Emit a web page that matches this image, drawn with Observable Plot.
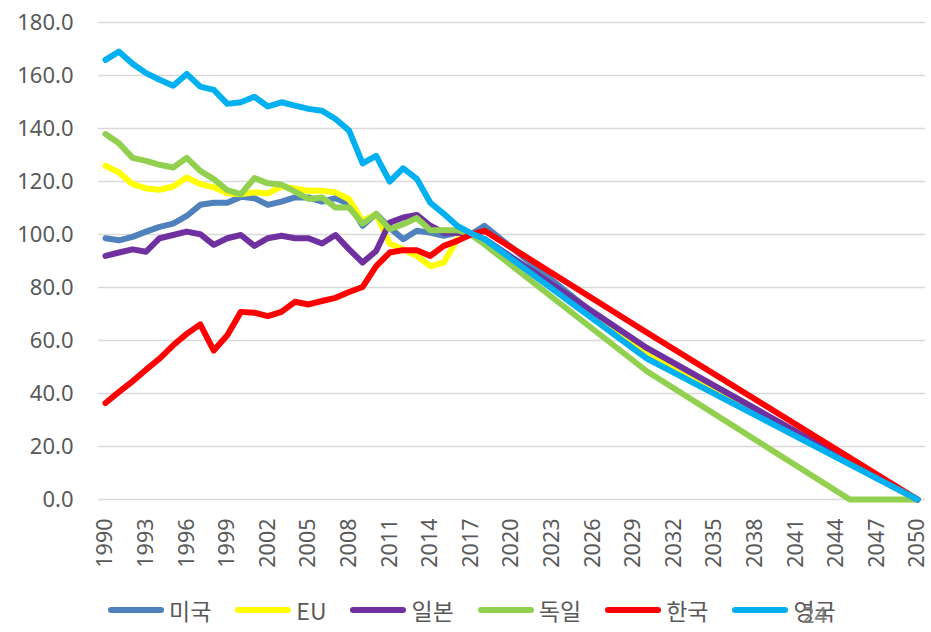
<!DOCTYPE html>
<html><head><meta charset="utf-8">
<script src="https://cdn.jsdelivr.net/npm/d3@7"></script>
<script src="https://cdn.jsdelivr.net/npm/@observablehq/plot@0.6"></script>
<style>
body{margin:0;background:#fff;}
#wrap{position:relative;width:931px;height:632px;overflow:hidden;}
#legend{position:absolute;left:108px;top:594px;height:32px;display:flex;gap:24px;align-items:center;}
.item{display:flex;align-items:center;gap:5px;font-size:23px;color:#595959;font-family:"Noto Sans CJK KR","Noto Sans",sans-serif;line-height:1;}
.sw{width:56px;height:6px;border-radius:3px;}
#page{position:absolute;left:802px;top:603px;font-size:22px;color:#7f7f7f;font-family:"Noto Sans",sans-serif;line-height:1;}
</style></head>
<body><div id="wrap"><div id="chart"></div><div id="legend"></div><div id="page">24</div></div>
<script>
const names = ["미국", "EU", "일본", "독일", "한국", "영국"];
const colors = ["#4f81bd", "#ffff00", "#7030a0", "#92d050", "#ff0000", "#00b0f0"];

const years = [1990,1991,1992,1993,1994,1995,1996,1997,1998,1999,2000,2001,2002,2003,2004,2005,2006,2007,2008,2009,2010,2011,2012,2013,2014,2015,2016,2017,2018];
const us = [98.6,97.8,99.1,101.1,102.9,104.1,107,111.2,112,112,114.2,113.7,111.2,112.4,114,114,112.4,113.7,111.5,103.3,107.8,102.6,98.2,101.4,100.7,99.5,100.7,100,103.3];
const eu = [125.9,123.4,119,117.4,116.9,118.1,121.5,119,117.8,115.6,115.2,115.9,115.5,118.1,117.4,116.5,116.5,115.9,113.3,105.1,107.7,96.5,94.4,91.9,88.1,89.4,98.2,100,98];
const jp = [91.9,93.2,94.4,93.5,98.6,99.8,101.1,100.1,96.1,98.6,99.8,95.7,98.6,99.5,98.6,98.6,96.6,99.8,94.4,89.4,93.8,104.5,106.4,107.4,103.3,100.7,100.7,100,98.3];
const de = [137.9,134.4,128.9,127.8,126.3,125.3,128.9,124,120.9,116.7,115.2,121.3,119.3,118.8,116.2,113.4,114,110.2,110.2,104.1,107.7,102,103.9,106.2,101.6,101.6,101.6,100,96.3];
const kr = [36.4,40.6,44.6,49,53.2,58.2,62.5,66.1,56.2,62,70.8,70.5,69.2,70.8,74.6,73.6,74.9,76.1,78.3,80.2,88.1,93.2,94.1,94.1,91.9,95.7,97.6,100,101.4];
const uk = [165.9,169,164.4,160.9,158.4,156.1,160.6,155.8,154.6,149.3,149.9,152,148.3,149.9,148.6,147.4,146.7,143.6,139.2,126.8,129.7,120,125,121,112,107.8,103.2,100.5,98.3];

// target path after 2018
const targetYears = [2030, 2050];
const usTarget = [54, 0];
const euTarget = [55.3, 0];
const jpTarget = [57.2, 0];
const deTargetYears = [2030, 2045, 2050];
const deTarget = [48.4, 0, 0];
const krTarget = [63, 0];
const ukTarget = [53.2, 0];

const xTicks = [1990,1993,1996,1999,2002,2005,2008,2011,2014,2017,2020,2023,2026,2029,2032,2035,2038,2041,2044,2047,2050];
const yTicks = [0,20,40,60,80,100,120,140,160,180];

const series = [
  [us, targetYears, usTarget],
  [eu, targetYears, euTarget],
  [jp, targetYears, jpTarget],
  [de, deTargetYears, deTarget],
  [kr, targetYears, krTarget],
  [uk, targetYears, ukTarget]
];
const data = [];
series.forEach(([hist, ty, tv], i) => {
  hist.forEach((v, j) => data.push({name: names[i], year: years[j], value: v}));
  ty.forEach((y, j) => data.push({name: names[i], year: y, value: tv[j]}));
});

const chart = Plot.plot({
  width: 931,
  height: 585,
  marginLeft: 98,
  marginRight: 6,
  marginTop: 22,
  marginBottom: 86,
  insetLeft: 7,
  insetRight: 8,
  style: {fontFamily: "'Noto Sans', sans-serif", color: "#595959", background: "#fff"},
  x: {domain: [1990, 2050]},
  y: {domain: [0, 180]},
  color: {domain: names, range: colors},
  marks: [
    Plot.gridY(yTicks, {stroke: "#d9d9d9", strokeOpacity: 1, strokeWidth: 1.6}),
    Plot.axisY(yTicks, {tickSize: 0, tickPadding: 25, tickFormat: d => d.toFixed(1), fontSize: 22, label: null}),
    Plot.axisX(xTicks, {tickSize: 0, tickPadding: 19, tickRotate: -90, tickFormat: d => String(d), fontSize: 21.5, label: null}),
    Plot.line(data, {x: "year", y: "value", z: "name", stroke: "name", strokeWidth: 6, strokeLinejoin: "round", strokeLinecap: "round"})
  ]
});
document.getElementById("chart").appendChild(chart);

const legend = document.getElementById("legend");
names.forEach((n, i) => {
  const it = document.createElement("div");
  it.className = "item";
  const sw = document.createElement("span");
  sw.className = "sw";
  sw.style.background = colors[i];
  const t = document.createElement("span");
  t.textContent = n;
  it.appendChild(sw); it.appendChild(t);
  legend.appendChild(it);
});
</script></body></html>
